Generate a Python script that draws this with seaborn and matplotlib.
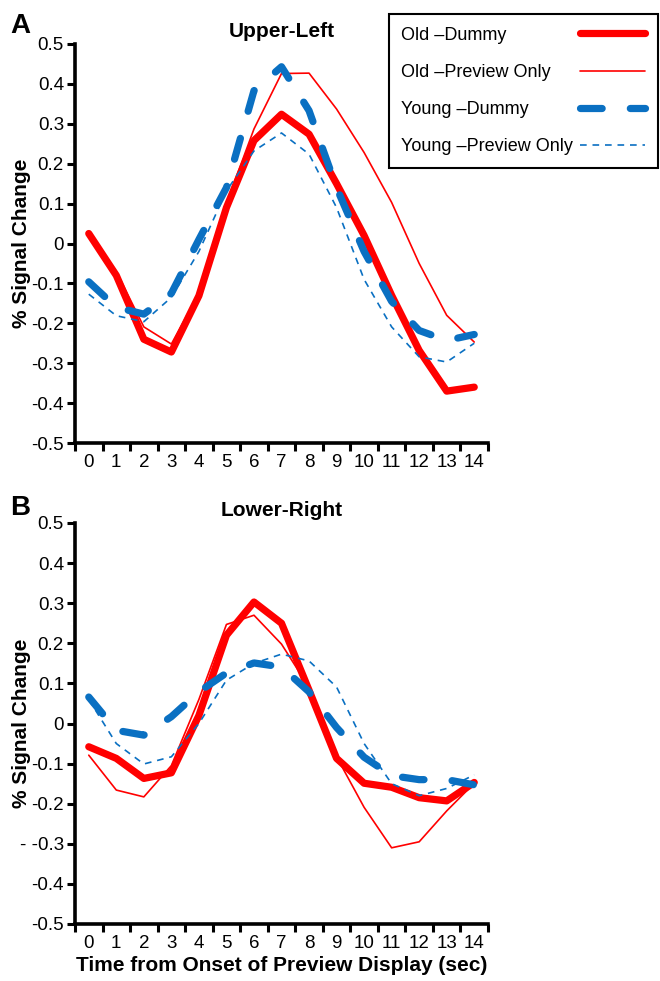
import numpy as np
import pandas as pd
import matplotlib
matplotlib.use('Agg')
import matplotlib.pyplot as plt
import seaborn as sns

# data
time_sec = list(range(15))
series_names = ['Old \u2013Dummy', 'Old \u2013Preview Only', 'Young \u2013Dummy', 'Young \u2013Preview Only']

ul_old_dummy = [0.025, -0.08, -0.24, -0.272, -0.131, 0.09, 0.258, 0.324, 0.274, 0.15, 0.02, -0.13, -0.268, -0.37, -0.36]
ul_old_preview = [0.025, -0.07, -0.209, -0.252, -0.125, 0.1, 0.287, 0.426, 0.427, 0.337, 0.228, 0.103, -0.05, -0.18, -0.247]
ul_young_dummy = [-0.096, -0.16, -0.177, -0.125, 0.01, 0.14, 0.383, 0.443, 0.333, 0.14, -0.02, -0.145, -0.218, -0.243, -0.228]
ul_young_preview = [-0.127, -0.181, -0.196, -0.135, -0.02, 0.132, 0.232, 0.277, 0.224, 0.09, -0.09, -0.209, -0.284, -0.297, -0.25]

lr_old_dummy = [-0.058, -0.087, -0.137, -0.123, 0.02, 0.22, 0.303, 0.25, 0.083, -0.087, -0.149, -0.159, -0.185, -0.193, -0.147]
lr_old_preview = [-0.079, -0.166, -0.183, -0.105, 0.06, 0.247, 0.27, 0.198, 0.09, -0.083, -0.209, -0.31, -0.295, -0.218, -0.149]
lr_young_dummy = [0.066, -0.017, -0.029, 0.017, 0.079, 0.126, 0.151, 0.141, 0.079, -0.01, -0.084, -0.13, -0.14, -0.14, -0.153]
lr_young_preview = [0.06, -0.05, -0.101, -0.083, 0.0, 0.108, 0.15, 0.173, 0.156, 0.091, -0.05, -0.15, -0.18, -0.162, -0.128]

ytick_values = [0.5, 0.4, 0.3, 0.2, 0.1, 0, -0.1, -0.2, -0.3, -0.4, -0.5]
ytick_labels_a = ['0.5', '0.4', '0.3', '0.2', '0.1', '0', '-0.1', '-0.2', '-0.3', '-0.4', '-0.5']
ytick_labels_b = ['0.5', '0.4', '0.3', '0.2', '0.1', '0', '-0.1', '-0.2', '- -0.3', '-0.4', '-0.5']

sns.set_style('ticks')
plt.rcParams['font.family'] = ['Liberation Sans', 'DejaVu Sans']
plt.rcParams['text.color'] = 'black'
plt.rcParams['axes.labelcolor'] = 'black'
plt.rcParams['xtick.color'] = 'black'
plt.rcParams['ytick.color'] = 'black'

red = '#FF0000'
blue = '#0A70C2'
styles = [
    dict(color=red, lw=5.2, linestyle='-'),
    dict(color=red, lw=1.2, linestyle='-'),
    dict(color=blue, lw=5.2, linestyle=(0, (3.0, 3.9)), dash_capstyle='round'),
    dict(color=blue, lw=1.2, linestyle=(0, (4, 3.5))),
]

fig = plt.figure(figsize=(6.6, 9.81), dpi=100)
ax_a = fig.add_axes([75 / 660, 1 - 443 / 981, 413 / 660, 399 / 981])
ax_b = fig.add_axes([75 / 660, 1 - 924 / 981, 413 / 660, 401 / 981])

panels = [
    (ax_a, 'Upper-Left', [ul_old_dummy, ul_old_preview, ul_young_dummy, ul_young_preview], ytick_labels_a),
    (ax_b, 'Lower-Right', [lr_old_dummy, lr_old_preview, lr_young_dummy, lr_young_preview], ytick_labels_b),
]

for ax, title, data, ylabels in panels:
    for name, vals, st in zip(series_names, data, styles):
        df = pd.DataFrame({'t': time_sec, 'v': vals})
        sns.lineplot(data=df, x='t', y='v', ax=ax, label=name, **st)
    if ax.get_legend() is not None:
        ax.get_legend().remove()

    ax.set_xlim(-0.5, 14.5)
    ax.set_ylim(-0.5, 0.5)
    ax.set_xticks(time_sec)
    ax.set_xticklabels([str(t) for t in time_sec], fontsize=13.5)
    ax.set_xticks(np.arange(-0.5, 15, 1), minor=True)
    ax.tick_params(axis='x', which='major', length=0, pad=8)
    ax.tick_params(axis='x', which='minor', length=6, width=2.2, direction='out')
    ax.set_yticks(ytick_values)
    ax.set_yticklabels(ylabels, fontsize=13.5)
    ax.tick_params(axis='y', which='major', length=6, width=2.2, direction='out', pad=2)

    for side in ['left', 'bottom']:
        ax.spines[side].set_linewidth(2.6)
        ax.spines[side].set_color('black')
    sns.despine(ax=ax)

    ax.set_title(title, fontsize=15, fontweight='bold', pad=5)
    ax.set_ylabel('% Signal Change', fontsize=15, fontweight='bold')
    ax.yaxis.set_label_coords(-44 / 413, 0.5)
    ax.set_xlabel('')

ax_b.set_xlabel('Time from Onset of Preview Display (sec)', fontsize=15, fontweight='bold')
ax_b.xaxis.set_label_coords(0.5, -32 / 401)

fig.text(10 / 660, 1 - 33 / 981, 'A', fontsize=20, fontweight='bold', va='baseline')
fig.text(10 / 660, 1 - 515 / 981, 'B', fontsize=20, fontweight='bold', va='baseline')

handles, labels = ax_a.get_legend_handles_labels()
leg = fig.legend(handles, labels, loc='upper right', bbox_to_anchor=(658 / 660, 1 - 14 / 981),
                 fontsize=13, markerfirst=False, handlelength=3.6, handletextpad=0.35,
                 labelspacing=1.12, borderpad=0.7, borderaxespad=0, fancybox=False,
                 framealpha=1, edgecolor='black')
leg.get_frame().set_linewidth(1.5)
# keep the labels left-aligned with the line samples pushed to the right edge
for col in leg._legend_handle_box.get_children():
    for row in col.get_children():
        row.mode = 'expand'
        row.set_width(244)

fig.savefig('out.png', dpi=100)
